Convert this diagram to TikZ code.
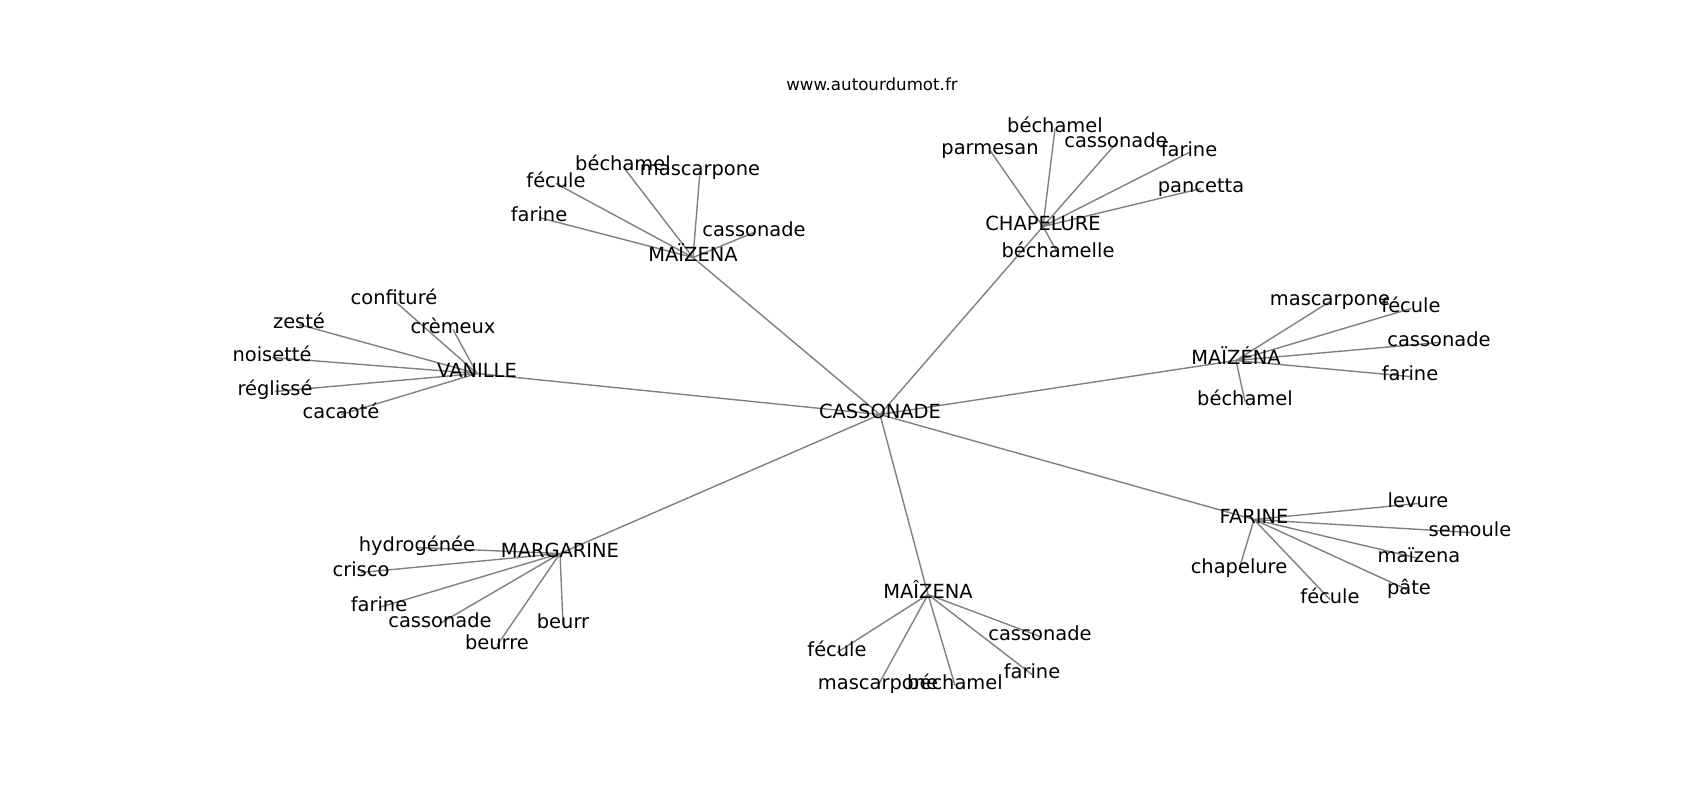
\documentclass[tikz,border=0pt]{standalone}
\usepackage{fontspec}
\setmainfont{DejaVu Sans}
\usetikzlibrary{backgrounds}
\tikzset{
  lbl/.style={inner sep=0pt, outer sep=0pt, anchor=center, font=\fontsize{14}{16}\selectfont, text height=0.76em, text depth=0.24em},
  ttl/.style={inner sep=0pt, outer sep=0pt, anchor=center, font=\fontsize{12}{14}\selectfont, text height=0.76em, text depth=0.24em},
  edge/.style={draw=gray, line width=1pt}
}
\begin{document}
\begin{tikzpicture}[x=0.72pt, y=-0.72pt]
\useasboundingbox (0,0) rectangle (1700,800);
\begin{scope}[shift={(0,2.5)}]
\node[ttl] (title) at (872,84) {www.autourdumot.fr};
% hubs
\node[lbl] (c) at (880,412) {CASSONADE};
\node[lbl] (m1) at (693,255) {MAÏZENA};
\node[lbl] (ch) at (1043,224) {CHAPELURE};
\node[lbl] (v) at (477,371) {VANILLE};
\node[lbl] (m2) at (1236,358) {MAÏZÉNA};
\node[lbl] (f) at (1254,517) {FARINE};
\node[lbl] (mg) at (560,551) {MARGARINE};
\node[lbl] (m3) at (928,592) {MAÎZENA};
% m1 children
\node[lbl] (m1a) at (623,164) {béchamel};
\node[lbl] (m1b) at (700,169) {mascarpone};
\node[lbl] (m1c) at (556,181) {fécule};
\node[lbl] (m1d) at (539,215) {farine};
\node[lbl] (m1e) at (754,230) {cassonade};
% ch children
\node[lbl] (cha) at (1055,126) {béchamel};
\node[lbl] (chb) at (990,148) {parmesan};
\node[lbl] (chc) at (1116,141) {cassonade};
\node[lbl] (chd) at (1189,150) {farine};
\node[lbl] (che) at (1201,186) {pancetta};
\node[lbl] (chf) at (1058,251) {béchamelle};
% v children
\node[lbl] (va) at (394,298) {confituré};
\node[lbl] (vb) at (299,322) {zesté};
\node[lbl] (vc) at (453,327) {crèmeux};
\node[lbl] (vd) at (272,355) {noisetté};
\node[lbl] (ve) at (275,389) {réglissé};
\node[lbl] (vf) at (341,412) {cacaoté};
% m2 children
\node[lbl] (m2a) at (1330,299) {mascarpone};
\node[lbl] (m2b) at (1411,306) {fécule};
\node[lbl] (m2c) at (1439,340) {cassonade};
\node[lbl] (m2d) at (1410,374) {farine};
\node[lbl] (m2e) at (1245,399) {béchamel};
% f children
\node[lbl] (fa) at (1418,501) {levure};
\node[lbl] (fb) at (1470,530) {semoule};
\node[lbl] (fc) at (1419,556) {maïzena};
\node[lbl] (fd) at (1239,567) {chapelure};
\node[lbl] (fe) at (1409,588) {pâte};
\node[lbl] (ff) at (1330,597) {fécule};
% mg children
\node[lbl] (mga) at (417,545) {hydrogénée};
\node[lbl] (mgb) at (361,570) {crisco};
\node[lbl] (mgc) at (379,605) {farine};
\node[lbl] (mgd) at (440,621) {cassonade};
\node[lbl] (mge) at (563,622) {beurr};
\node[lbl] (mgf) at (497,643) {beurre};
% m3 children
\node[lbl] (m3a) at (1040,634) {cassonade};
\node[lbl] (m3b) at (837,650) {fécule};
\node[lbl] (m3c) at (1032,672) {farine};
\node[lbl] (m3d) at (878,683) {mascarpone};
\node[lbl] (m3e) at (955,683) {béchamel};
\end{scope}
\begin{pgfonlayer}{background}
\fill[white] (0,0) rectangle (1700,800);
\foreach \h in {m1,ch,v,m2,f,mg,m3} \draw[edge] (c.center) -- (\h.center);
\foreach \k in {m1a,m1b,m1c,m1d,m1e} \draw[edge] (m1.center) -- (\k.center);
\foreach \k in {cha,chb,chc,chd,che,chf} \draw[edge] (ch.center) -- (\k.center);
\foreach \k in {va,vb,vc,vd,ve,vf} \draw[edge] (v.center) -- (\k.center);
\foreach \k in {m2a,m2b,m2c,m2d,m2e} \draw[edge] (m2.center) -- (\k.center);
\foreach \k in {fa,fb,fc,fd,fe,ff} \draw[edge] (f.center) -- (\k.center);
\foreach \k in {mga,mgb,mgc,mgd,mge,mgf} \draw[edge] (mg.center) -- (\k.center);
\foreach \k in {m3a,m3b,m3c,m3d,m3e} \draw[edge] (m3.center) -- (\k.center);
\end{pgfonlayer}
\end{tikzpicture}
\end{document}
